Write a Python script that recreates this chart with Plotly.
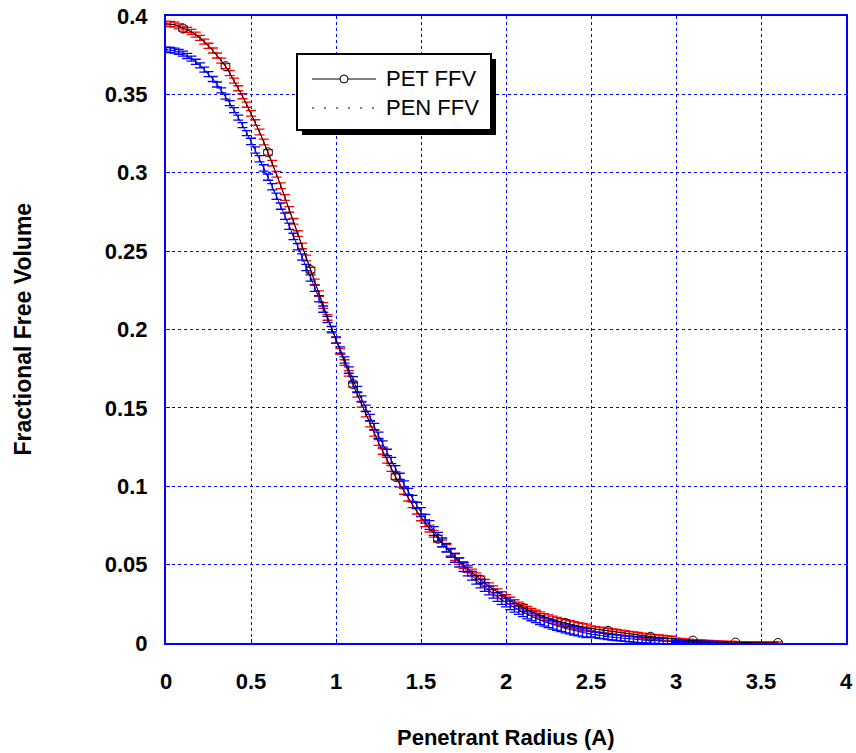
import numpy as np
import plotly.graph_objects as go

# ---------------- data ----------------
R_STEP = 0.025

PET_FFV = [
    0.3950, 0.3949, 0.3945, 0.3934, 0.3920, 0.3911, 0.3899, 0.3881, 0.3860, 0.3836,
    0.3810, 0.3780, 0.3748, 0.3715, 0.3680, 0.3635, 0.3588, 0.3539, 0.3488, 0.3434,
    0.3379, 0.3320, 0.3260, 0.3196, 0.3130, 0.3061, 0.2990, 0.2917, 0.2842, 0.2766,
    0.2690, 0.2612, 0.2533, 0.2456, 0.2379, 0.2304, 0.2229, 0.2153, 0.2077, 0.2004,
    0.1931, 0.1860, 0.1789, 0.1720, 0.1651, 0.1586, 0.1523, 0.1460, 0.1397, 0.1338,
    0.1279, 0.1222, 0.1166, 0.1113, 0.1061, 0.1013, 0.0967, 0.0924, 0.0882, 0.0841,
    0.0802, 0.0765, 0.0730, 0.0697, 0.0665, 0.0635, 0.0605, 0.0577, 0.0549, 0.0523,
    0.0497, 0.0473, 0.0449, 0.0426, 0.0404, 0.0383, 0.0362, 0.0342, 0.0323, 0.0305,
    0.0287, 0.0270, 0.0254, 0.0239, 0.0224, 0.0211, 0.0198, 0.0187, 0.0176, 0.0166,
    0.0157, 0.0149, 0.0141, 0.0134, 0.0127, 0.0120, 0.0114, 0.0108, 0.0103, 0.0098,
    0.0093, 0.0089, 0.0085, 0.0081, 0.0078, 0.0074, 0.0070, 0.0066, 0.0062, 0.0058,
    0.0055, 0.0051, 0.0047, 0.0043, 0.0040, 0.0037, 0.0035, 0.0032, 0.0030, 0.0027,
    0.0024, 0.0022, 0.0019, 0.0017, 0.0015, 0.0013, 0.0012, 0.0010, 0.0009, 0.0007,
    0.0006, 0.0005, 0.0004, 0.0003, 0.0003, 0.0002, 0.0002, 0.0001, 0.0001, 0.0001,
    0.0001, 0.0000, 0.0000, 0.0000, 0.0000,
]

PET_ERR = [
    0.0016, 0.0016, 0.0016, 0.0016, 0.0016, 0.0016, 0.0016, 0.0016, 0.0016, 0.0016,
    0.0016, 0.0016, 0.0016, 0.0016, 0.0016, 0.0016, 0.0016, 0.0016, 0.0016, 0.0016,
    0.0018, 0.0018, 0.0018, 0.0018, 0.0018, 0.0018, 0.0018, 0.0018, 0.0018, 0.0018,
    0.0018, 0.0018, 0.0018, 0.0018, 0.0018, 0.0018, 0.0018, 0.0018, 0.0018, 0.0018,
    0.0018, 0.0018, 0.0018, 0.0018, 0.0018, 0.0018, 0.0018, 0.0018, 0.0018, 0.0018,
    0.0018, 0.0018, 0.0018, 0.0018, 0.0018, 0.0018, 0.0018, 0.0018, 0.0018, 0.0018,
    0.0022, 0.0022, 0.0022, 0.0022, 0.0022, 0.0022, 0.0022, 0.0022, 0.0022, 0.0022,
    0.0022, 0.0022, 0.0022, 0.0022, 0.0022, 0.0022, 0.0022, 0.0022, 0.0022, 0.0022,
    0.0022, 0.0022, 0.0022, 0.0022, 0.0022, 0.0022, 0.0022, 0.0022, 0.0022, 0.0022,
    0.0022, 0.0022, 0.0022, 0.0022, 0.0022, 0.0022, 0.0022, 0.0022, 0.0022, 0.0022,
    0.0016, 0.0016, 0.0016, 0.0016, 0.0016, 0.0016, 0.0016, 0.0016, 0.0016, 0.0016,
    0.0016, 0.0016, 0.0016, 0.0016, 0.0016, 0.0016, 0.0016, 0.0016, 0.0016, 0.0016,
    0.0007, 0.0007, 0.0007, 0.0007, 0.0007, 0.0007, 0.0007, 0.0007, 0.0007, 0.0007,
    0.0007, 0.0007, 0.0007, 0.0007, 0.0007, 0.0007, 0.0007, 0.0007, 0.0007, 0.0007,
    0.0007, 0.0007, 0.0007, 0.0007, 0.0007,
]

PEN_FFV = [
    0.3785, 0.3783, 0.3779, 0.3771, 0.3760, 0.3745, 0.3728, 0.3708, 0.3685, 0.3658,
    0.3629, 0.3598, 0.3563, 0.3526, 0.3486, 0.3444, 0.3399, 0.3352, 0.3304, 0.3253,
    0.3200, 0.3145, 0.3089, 0.3031, 0.2972, 0.2911, 0.2850, 0.2787, 0.2723, 0.2659,
    0.2594, 0.2528, 0.2462, 0.2396, 0.2329, 0.2263, 0.2196, 0.2130, 0.2064, 0.1998,
    0.1933, 0.1869, 0.1805, 0.1741, 0.1679, 0.1617, 0.1557, 0.1497, 0.1438, 0.1381,
    0.1325, 0.1270, 0.1216, 0.1164, 0.1112, 0.1063, 0.1014, 0.0967, 0.0922, 0.0878,
    0.0835, 0.0793, 0.0753, 0.0715, 0.0678, 0.0642, 0.0608, 0.0575, 0.0543, 0.0513,
    0.0484, 0.0456, 0.0429, 0.0404, 0.0380, 0.0357, 0.0335, 0.0314, 0.0294, 0.0275,
    0.0258, 0.0241, 0.0225, 0.0210, 0.0196, 0.0182, 0.0170, 0.0158, 0.0146, 0.0136,
    0.0126, 0.0117, 0.0108, 0.0100, 0.0093, 0.0086, 0.0079, 0.0073, 0.0067, 0.0062,
    0.0057, 0.0052, 0.0048, 0.0044, 0.0040, 0.0037, 0.0034, 0.0031, 0.0028, 0.0026,
    0.0024, 0.0021, 0.0020, 0.0018, 0.0016, 0.0015, 0.0013, 0.0012, 0.0011, 0.0010,
    0.0009, 0.0008, 0.0007, 0.0006, 0.0006, 0.0005, 0.0004, 0.0004, 0.0003, 0.0003,
    0.0002, 0.0002, 0.0002,
]

PEN_ERR = [
    0.0016, 0.0016, 0.0016, 0.0016, 0.0016, 0.0016, 0.0016, 0.0016, 0.0016, 0.0016,
    0.0016, 0.0016, 0.0016, 0.0016, 0.0016, 0.0016, 0.0016, 0.0016, 0.0016, 0.0016,
    0.0020, 0.0020, 0.0020, 0.0020, 0.0020, 0.0020, 0.0020, 0.0020, 0.0020, 0.0020,
    0.0020, 0.0020, 0.0020, 0.0020, 0.0020, 0.0020, 0.0020, 0.0020, 0.0020, 0.0020,
    0.0020, 0.0020, 0.0020, 0.0020, 0.0020, 0.0020, 0.0020, 0.0020, 0.0020, 0.0020,
    0.0020, 0.0020, 0.0020, 0.0020, 0.0020, 0.0020, 0.0020, 0.0020, 0.0020, 0.0020,
    0.0028, 0.0028, 0.0028, 0.0028, 0.0028, 0.0028, 0.0028, 0.0028, 0.0028, 0.0028,
    0.0028, 0.0028, 0.0028, 0.0028, 0.0028, 0.0028, 0.0028, 0.0028, 0.0028, 0.0028,
    0.0028, 0.0028, 0.0028, 0.0028, 0.0028, 0.0028, 0.0028, 0.0028, 0.0028, 0.0028,
    0.0028, 0.0028, 0.0028, 0.0028, 0.0028, 0.0028, 0.0028, 0.0028, 0.0028, 0.0028,
    0.0018, 0.0018, 0.0018, 0.0018, 0.0018, 0.0018, 0.0018, 0.0018, 0.0018, 0.0018,
    0.0018, 0.0018, 0.0018, 0.0018, 0.0018, 0.0018, 0.0018, 0.0018, 0.0018, 0.0018,
    0.0007, 0.0007, 0.0007, 0.0007, 0.0007, 0.0007, 0.0007, 0.0007, 0.0007, 0.0007,
    0.0007, 0.0007, 0.0007,
]

X_TICKS = [0, 0.5, 1, 1.5, 2, 2.5, 3, 3.5, 4]
Y_TICKS = [0, 0.05, 0.1, 0.15, 0.2, 0.25, 0.3, 0.35, 0.4]
LEGEND_LABELS = ["PET FFV", "PEN FFV"]
X_TITLE = "Penetrant Radius (A)"
Y_TITLE = "Fractional Free Volume"

# radius grids (penetrant radius sampled every R_STEP)
pet_r = np.round(np.arange(len(PET_FFV)) * R_STEP, 4)
pen_r = np.round(np.arange(len(PEN_FFV)) * R_STEP, 4)

# ---------------- layout geometry ----------------
W, H = 856, 753
L, R, T, B = 166, 10, 16, 110
PW, PH = W - L - R, H - T - B

def px(xp):
    return (xp - L) / PW

def py(yp):
    return (H - B - yp) / PH

FONT = "Liberation Sans, Arial, sans-serif"
BLUE = "#0000ff"

fig = go.Figure()

# red PET error bars
fig.add_trace(go.Scatter(
    x=pet_r, y=PET_FFV, mode="lines",
    line=dict(color="#ff0000", width=1),
    error_y=dict(type="data", array=PET_ERR, visible=True,
                 color="#ff0000", thickness=1.3, width=5),
    showlegend=False, hoverinfo="skip"))

# blue PEN error bars
fig.add_trace(go.Scatter(
    x=pen_r, y=PEN_FFV, mode="lines",
    line=dict(color=BLUE, width=1),
    error_y=dict(type="data", array=PEN_ERR, visible=True,
                 color=BLUE, thickness=1.3, width=5),
    showlegend=False, hoverinfo="skip"))

# black PET line
fig.add_trace(go.Scatter(
    x=pet_r, y=PET_FFV, mode="lines",
    line=dict(color="black", width=1),
    showlegend=False))

# black dotted PEN line
fig.add_trace(go.Scatter(
    x=pen_r, y=PEN_FFV, mode="lines",
    line=dict(color="black", width=1, dash="2px,6px"),
    showlegend=False))

# circle markers on PET line every 10th point
fig.add_trace(go.Scatter(
    x=pet_r[4::10], y=PET_FFV[4::10], mode="markers",
    marker=dict(symbol="circle-open", size=9, color="black",
                line=dict(color="black", width=1)),
    showlegend=False))

axis_common = dict(
    showgrid=True, gridcolor=BLUE, gridwidth=1, griddash="3px,3px",
    showline=True, linecolor=BLUE, linewidth=2, mirror=True,
    zeroline=False, ticks="inside", ticklen=4, tickcolor=BLUE,
    tickfont=dict(family=FONT, size=22, color="black", weight="bold"),
)

fig.update_xaxes(range=[0, 4], tickvals=X_TICKS,
                 ticktext=[f"{v:g}" for v in X_TICKS],
                 ticklabelstandoff=18, **axis_common)
fig.update_yaxes(range=[0, 0.4], tickvals=Y_TICKS,
                 ticktext=[f"{v:g}" for v in Y_TICKS],
                 ticklabelstandoff=12, **axis_common)

shapes = []
# legend shadow and box
shapes.append(dict(type="rect", xref="paper", yref="paper",
                   x0=px(302), x1=px(496), y0=py(135), y1=py(59),
                   fillcolor="black", line=dict(width=0), layer="above"))
shapes.append(dict(type="rect", xref="paper", yref="paper",
                   x0=px(297), x1=px(491), y0=py(130), y1=py(54),
                   fillcolor="white", line=dict(color="black", width=2), layer="above"))
# legend samples
shapes.append(dict(type="line", xref="paper", yref="paper",
                   x0=px(312), x1=px(376), y0=py(79), y1=py(79),
                   line=dict(color="black", width=1), layer="above"))
shapes.append(dict(type="circle", xref="paper", yref="paper",
                   x0=px(340), x1=px(348), y0=py(83), y1=py(75),
                   fillcolor="white", line=dict(color="black", width=1), layer="above"))
shapes.append(dict(type="line", xref="paper", yref="paper",
                   x0=px(312), x1=px(376), y0=py(108), y1=py(108),
                   line=dict(color="black", width=1, dash="2px,10px"), layer="above"))

annotations = [
    dict(text=LEGEND_LABELS[0], xref="paper", yref="paper", x=px(384), y=py(79),
         xanchor="left", yanchor="middle", showarrow=False,
         font=dict(family=FONT, size=22, color="black")),
    dict(text=LEGEND_LABELS[1], xref="paper", yref="paper", x=px(384), y=py(108),
         xanchor="left", yanchor="middle", showarrow=False,
         font=dict(family=FONT, size=22, color="black")),
    dict(text=X_TITLE, xref="paper", yref="paper", x=0.5, y=py(737),
         xanchor="center", yanchor="middle", showarrow=False,
         font=dict(family=FONT, size=22, color="black", weight="bold")),
    dict(text=Y_TITLE, xref="paper", yref="paper", x=px(22), y=0.5,
         xanchor="center", yanchor="middle", showarrow=False, textangle=-90,
         font=dict(family=FONT, size=23, color="black", weight="bold")),
]

fig.update_layout(
    width=W, height=H,
    margin=dict(l=L, r=R, t=T, b=B, autoexpand=False),
    paper_bgcolor="white", plot_bgcolor="white",
    shapes=shapes, annotations=annotations,
    showlegend=False,
)

fig.write_html("out.html")
